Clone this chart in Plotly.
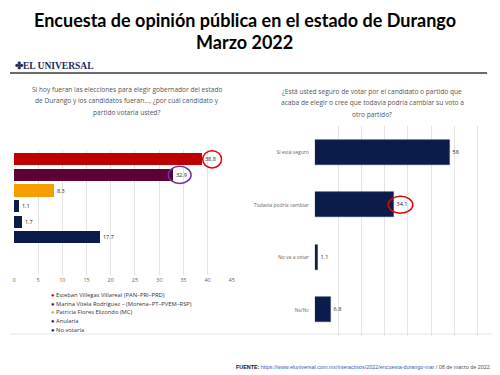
import plotly.graph_objects as go

# The page body has an 8px margin, so the figure is drawn 8px in from the
# top-left corner of the 500x375 window; positions below are given in window
# pixels and converted.
OFF = 8
W, H = 500 - OFF, 375 - OFF


def px(x):
    return (x - OFF) / W


def py(y):
    return 1 - (y - OFF) / H


# ---------------- data ----------------
title_lines = ["Encuesta de opinión pública en el estado de Durango", "Marzo 2022"]

q1_lines = [
    "Si hoy fueran las elecciones para elegir gobernador del estado",
    "de Durango y los candidatos fueran..., ¿por cuál candidato y",
    "partido votaría usted?",
]
q2_lines = [
    "¿Está usted seguro de votar por el candidato o partido que",
    "acaba de elegir o cree que todavía podría cambiar su voto a",
    "otro partido?",
]

cand_names = [
    "Esteban Villegas Villareal (PAN–PRI–PRD)",
    "Marina Vitela Rodríguez – (Morena–PT–PVEM–RSP)",
    "Patricia Flores Elizondo (MC)",
    "Anularía",
    "No votaría",
]
cand_values = [38.8, 32.9, 8.3, 1.1, 1.7, 17.7]
cand_labels = ["38.8", "32.9", "8.3", "1.1", "1.7", "17.7"]
cand_colors = ["#C00000", "#5E0035", "#F5A000", "#0B1C4A", "#0B1C4A", "#0B1C4A"]
legend_colors = ["#C00000", "#5E0035", "#F5A000", "#0B1C4A", "#0B1C4A"]
left_ticks = [0, 5, 10, 15, 20, 25, 30, 35, 40, 45]

sure_cats = ["Sí está seguro", "Todavía podría cambiar", "No va a votar", "Ns/Nc"]
sure_values = [58, 34.1, 1.1, 6.8]
sure_labels = ["58", "34.1", "1.1", "6.8"]
right_ticks = [0, 10, 20, 30, 40, 50, 60, 70]

source_prefix = "FUENTE: "
source_url = "https://www.eluniversal.com.mx/interactivos/2022/encuesta-durango-mar"
source_date = " / 08 de marzo de 2022."

NAVY = "#0B1C4A"
GRID = "#E4E4E4"
TXT = "#555555"
FONT = "Open Sans"

fig = go.Figure()

# left chart bars
fig.add_trace(go.Bar(
    x=cand_values, y=list(range(len(cand_values))), orientation="h",
    marker=dict(color=cand_colors, line=dict(width=0)), width=0.78,
    text=cand_labels, textposition="outside", cliponaxis=False,
    textfont=dict(size=5.5, color="#222", family=FONT),
    xaxis="x", yaxis="y", showlegend=False, hoverinfo="x",
))

# right chart bars
fig.add_trace(go.Bar(
    x=sure_values, y=sure_cats, orientation="h",
    marker=dict(color=NAVY, line=dict(width=0.6, color="#3a4a70")), width=0.47,
    text=sure_labels, textposition="outside", cliponaxis=False,
    textfont=dict(size=5.5, color="#222", family=FONT),
    xaxis="x2", yaxis="y2", showlegend=False, hoverinfo="x",
))

shapes = []
annotations = []

# header line
shapes.append(dict(type="line", xref="paper", yref="paper", x0=0, x1=px(490),
                   y0=py(73), y1=py(73), line=dict(color="#3a3a3a", width=1.5)))
# bottom separator line
shapes.append(dict(type="line", xref="paper", yref="paper", x0=0, x1=1,
                   y0=py(334), y1=py(334), line=dict(color="#E6E6E6", width=1)))

# highlight ellipses (positioned relative to the data values)
v0 = cand_values[0]
shapes.append(dict(type="circle", xref="x", yref="y", x0=v0 + 0.2, x1=v0 + 4.1,
                   y0=-0.55, y1=0.55, line=dict(color="#E60000", width=1.5)))
v1 = cand_values[1]
shapes.append(dict(type="circle", xref="x", yref="y", x0=v1 - 1.0, x1=v1 + 3.7,
                   y0=0.45, y1=1.55, line=dict(color="#7030A0", width=1.5)))
s1 = sure_values[1]
shapes.append(dict(type="circle", xref="x2", yref="y2", x0=s1 - 2.6, x1=s1 + 8.0,
                   y0=0.84, y1=1.16, line=dict(color="#E60000", width=1.5)))

# title
for i, t in enumerate(title_lines):
    annotations.append(dict(text="<b>" + t + "</b>", x=px(245), y=py(20 + 22 * i),
                            xref="paper", yref="paper", showarrow=False,
                            xanchor="center", yanchor="middle",
                            font=dict(family="Lato", size=18, color="#000")))

# logo
annotations.append(dict(text="<b>✤EL UNIVERSAL</b>", x=px(11), y=py(66), xref="paper", yref="paper",
                        showarrow=False, xanchor="left", yanchor="middle",
                        font=dict(family="Liberation Serif", size=9.5, color="#1C2B59")))

# questions
for i, t in enumerate(q1_lines):
    annotations.append(dict(text=t, x=px(126), y=py(89 + 11.7 * i), xref="paper", yref="paper",
                            showarrow=False, xanchor="center", yanchor="middle",
                            font=dict(family=FONT, size=6.6, color=TXT)))
for i, t in enumerate(q2_lines):
    annotations.append(dict(text=t, x=px(374), y=py(91 + 11.5 * i), xref="paper", yref="paper",
                            showarrow=False, xanchor="center", yanchor="middle",
                            font=dict(family=FONT, size=6.6, color=TXT)))

# legend (manual, compact)
for i, (n, c) in enumerate(zip(cand_names, legend_colors)):
    annotations.append(dict(text="<span style='color:%s'>●</span> %s" % (c, n),
                            x=px(47), y=py(295 + 8.7 * i), xref="paper", yref="paper",
                            showarrow=False, xanchor="left", yanchor="middle",
                            font=dict(family=FONT, size=5.8, color="#333")))

# source
annotations.append(dict(
    text="<b>" + source_prefix + "</b><span style='color:#2F5FC4'>" + source_url + "</span>"
         + "<span style='color:#555'>" + source_date + "</span>",
    x=px(496), y=py(367), xref="paper", yref="paper", showarrow=False,
    xanchor="right", yanchor="middle", font=dict(family="Liberation Sans", size=5.4, color="#111")))

fig.update_layout(
    width=W, height=H, margin=dict(l=0, r=0, t=0, b=0),
    paper_bgcolor="white", plot_bgcolor="white",
    shapes=shapes, annotations=annotations, bargap=0,
    xaxis=dict(domain=[px(12), px(232)], range=[0, 45], tickvals=left_ticks,
               showgrid=True, gridcolor=GRID, gridwidth=1, zeroline=False,
               showline=False, ticks="", tickfont=dict(size=5.5, color="#666", family=FONT),
               anchor="y", fixedrange=True),
    yaxis=dict(domain=[py(275), py(150)], range=[7.43, -0.6], showticklabels=False,
               showgrid=False, zeroline=False, showline=False, anchor="x", fixedrange=True),
    xaxis2=dict(domain=[px(316), px(490)], range=[0, 74], tickvals=right_ticks,
                showticklabels=False, showgrid=True, gridcolor=GRID, gridwidth=1,
                zeroline=False, showline=False, anchor="y2", fixedrange=True),
    yaxis2=dict(domain=[py(336), py(126)], range=[3.5, -0.5], type="category",
                categoryorder="array", categoryarray=sure_cats,
                ticks="outside", ticklen=4, tickcolor="rgba(0,0,0,0)",
                tickfont=dict(size=5, color="#666", family=FONT),
                showgrid=False, zeroline=False, showline=False, anchor="x2", fixedrange=True),
)

fig.write_html("out.html")
